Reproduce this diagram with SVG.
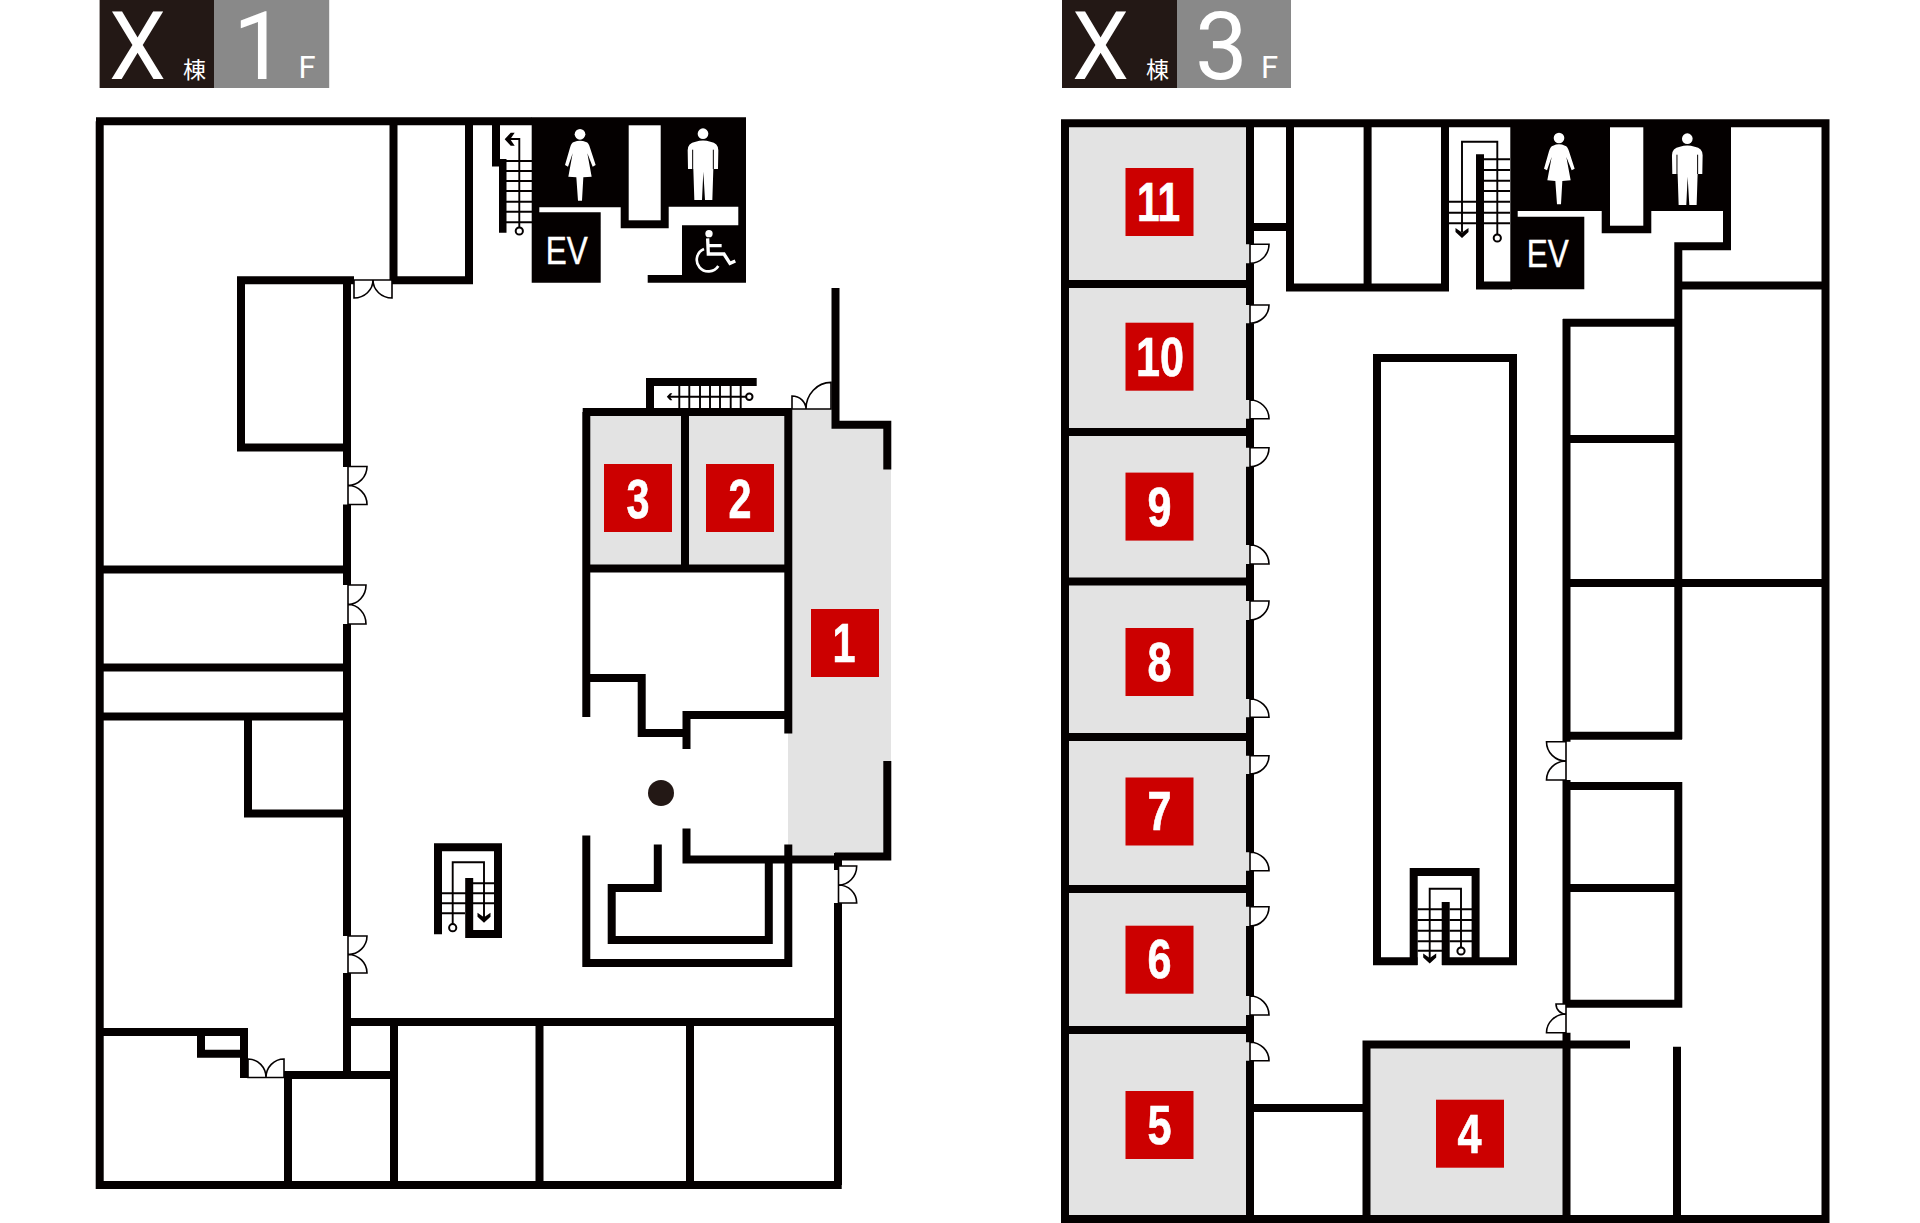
<svg xmlns="http://www.w3.org/2000/svg" xmlns:xlink="http://www.w3.org/1999/xlink" width="1920" height="1223" viewBox="0 0 1920 1223">
<style>
.w{fill:none;stroke:#040000;stroke-width:8;stroke-linejoin:miter;stroke-linecap:butt}
.k{fill:#040000}
.g{fill:#e3e3e3}
.t{fill:none;stroke:#040000;stroke-width:1.9}
.d{fill:#fff;stroke:#040000;stroke-width:1.6}
.c{fill:#fff;stroke:#040000;stroke-width:2}
.r{fill:#cc0000}
.n{font-family:"Liberation Sans",Arial,sans-serif;font-weight:700;font-size:56px;fill:#fff;stroke:#fff;stroke-width:.7;text-anchor:middle}
.big{font-family:Roboto,"Liberation Sans",sans-serif;font-weight:400;font-size:94px;fill:#fff}
.f{font-family:Roboto,"Liberation Sans",sans-serif;font-weight:400;font-size:31px;fill:#fff}
.b{font-family:"Noto Sans CJK JP",sans-serif;font-weight:400;font-size:23px;fill:#fff}
.ev{font-family:"Liberation Sans",Arial,sans-serif;font-size:38.5px;fill:#fff;stroke:#fff;stroke-width:.4}
</style>
<defs>
<path id="chev" d="M-6.5,-10 L0,-5.5 L6.5,-10 L6.5,-6 L0,0 L-6.5,-6Z" fill="#040000"/>
<g id="woman" fill="#fff" transform="scale(.3333)">
<circle cx="0" cy="0" r="16"/>
<path d="M-18,23 Q0,15 18,23 Q26,25 30,40 L47,92 L38,97 L22,57 L35,127 L10,129 L6,199 L-6,199 L-11,129 L-35,127 L-22,57 L-36,97 L-45,92 L-30,40 Q-26,25 -18,23Z"/>
</g>
<g id="man" transform="scale(.3333)">
<circle cx="0" cy="0" r="16" fill="#fff"/>
<path fill="#fff" d="M-22,24 Q0,17 22,24 Q46,27 46,50 L45,106 L31,106 L28,199 L6,199 L1,114 L-3,199 L-26,199 L-29,106 L-45,106 L-46,50 Q-46,27 -22,24Z"/>
<path d="M-31,48 V106 M31,48 V106" stroke="#040000" stroke-width="3" fill="none"/>
</g>
</defs>

<rect width="1920" height="1223" fill="#fff"/>

<g id="plan-1f">
<g id="title-1f">
<rect x="99.6" y="0" width="114.4" height="88" fill="#231815"/>
<rect x="214" y="0" width="115.2" height="88" fill="#898989"/>
<text class="big" x="109" y="79" textLength="57" lengthAdjust="spacingAndGlyphs">X</text>
<text class="b" x="183" y="78">棟</text>
<text class="big" x="233" y="79">1</text>
<text class="f" x="298.5" y="78">F</text>
</g>
<g id="areas-1f">
<rect class="g" x="590" y="415" width="92" height="151"/>
<rect class="g" x="688" y="415" width="97" height="151"/>
<path class="g" d="M792,409 H832 V428 H891 V856 H788 V733 H792Z"/>
</g>
<g id="walls-1f">
<path class="w" d="M99.7,121.3 V1185 H841.7 M96,121.3 H532"/>
<path class="w" d="M393.5,121 V280.3 H473 M469,121 V284"/>
<path class="w" d="M354,280.3 H241 V447.6 H347 M347,280 V467 M347,504.5 V585 M347,624 V936 M347,973 V1075"/>
<path class="w" d="M103,569.5 H347 M103,667.5 H347 M103,716.5 H347"/>
<path class="w" d="M248,716.5 V813.5 H347"/>
<path class="w" d="M103,1032 H244 V1078 M201,1032 V1053.7 H244"/>
<path class="w" d="M284,1075 H394 M288,1075 V1185 M347,1022 H841.7 M394,1022 V1185 M539.5,1022 V1185 M690,1022 V1185 M838,903 V1185"/>
<path class="w" d="M582.7,412 H792 M586.3,412 V717 M685,412 V568 M586,568.6 H788 M788.3,408 V733.5"/>
<path class="w" d="M586,678 H641.7 V733 H690 M686.5,749 V715 H788"/>
<path class="w" d="M686.5,828.6 V859.5 H841 M768.8,859 V940 H611.7 V888 H661.7 M657.8,844.5 V892"/>
<path class="w" d="M586.3,835.5 V963 H788.3 M788.3,844.5 V967"/>
<path class="w" d="M835.5,288 V424.8 H887.3 V469.4 M887.3,761 V856.5 H835 M838,853 V870"/>
<path class="k" d="M492,125 H500 V159 H506.5 V232.7 H499 V166.5 H492Z"/>
<path class="k" d="M531.7,117.3 H746 V282.7 H647.7 V275 H682 V225.3 H738.3 V206.7 H668.7 V228.3 H620.7 V207.3 H539.3 V212.3 H600.7 V282.7 H531.7Z"/>
<rect x="628.7" y="125.3" width="32" height="95" fill="#fff"/>
<circle cx="661" cy="793" r="13" fill="#231815"/>
</g>
<g id="stairs-1f">
<path class="t" d="M506,161H532 M506,171H532 M506,181H532 M506,191H532 M506,201.7H532 M506,211.7H532 M506,222.3H532 M519.3,227 V139 H507"/>
<use xlink:href="#chev" href="#chev" transform="translate(504.7 139.3) rotate(90)"/>
<circle class="c" cx="519.3" cy="231" r="3.6"/>
<path class="w" d="M650,412 V382 H756.7"/>
<path class="t" d="M668,396.7 H746 M679.3,385.7V408 M689.3,385.7V408 M700,385.7V408 M710,385.7V408 M720,385.7V408 M730.7,385.7V408 M740.7,385.7V408"/>
<use xlink:href="#chev" href="#chev" transform="translate(666.8 396.7) rotate(90) scale(.55)"/>
<circle class="c" cx="749.3" cy="396.7" r="3.2"/>
<path class="w" d="M438,934.3 V847.3 H498 V934 H469.2 V878"/>
<path class="t" d="M473,883.3H494 M442,893.3H494 M442,903.2H494 M442,913.3H465 M452.7,924 V862.3 H484 V918"/>
<use xlink:href="#chev" href="#chev" transform="translate(484 922.7)"/>
<circle class="c" cx="452.7" cy="927.7" r="3.6"/>
</g>
<g id="doors-1f">
<path class="d" d="M354,280 H392 V298 A19,18 0 0 1 373,280 A19,18 0 0 1 354,298Z"/>
<path class="d" d="M348,466.5 H367 A19,19 0 0 1 348,485.5 A19,19 0 0 1 367,504.5 H348Z"/>
<path class="d" d="M348,585 H366 A18,19.5 0 0 1 348,604.5 A18,19.5 0 0 1 366,624 H348Z"/>
<path class="d" d="M348,936 H367 A19,18.5 0 0 1 348,954.5 A19,18.5 0 0 1 367,973 H348Z"/>
<path class="d" d="M248,1077.5 V1059 A18,18.5 0 0 1 266,1077.5 A18,18.5 0 0 1 284,1059 V1077.5Z"/>
<path class="d" d="M792,409 V396 A14,13 0 0 1 806,409 A25,26.5 0 0 1 831,382.4 V409Z"/>
<path class="d" d="M838.5,866 H856.7 A18.2,19 0 0 1 838.5,885 A18.2,18 0 0 1 856.7,903 H838.5Z"/>
</g>
<g id="rooms-1f">
<rect class="r" x="604" y="464" width="68" height="68"/><text class="n" x="638" y="517.6" textLength="23" lengthAdjust="spacingAndGlyphs">3</text>
<rect class="r" x="706" y="464" width="68" height="68"/><text class="n" x="740" y="517.6" textLength="23" lengthAdjust="spacingAndGlyphs">2</text>
<rect class="r" x="811" y="609" width="68" height="68"/><text class="n" x="844" y="662" textLength="23" lengthAdjust="spacingAndGlyphs">1</text>
</g>
<g id="icons-1f">
<use xlink:href="#woman" href="#woman" transform="translate(580 134.3)"/>
<use xlink:href="#man" href="#man" transform="translate(703 133.7)"/>
<g transform="translate(500 100) scale(.3333)" fill="none" stroke="#fff" stroke-width="8">
<circle cx="627" cy="401" r="11" fill="#fff" stroke="none"/>
<path d="M623,415 L625,462 H672 L690,490 L706,483 M625,437 H665" stroke-width="10"/>
<path d="M612,447 A35,35 0 1 0 655,498"/>
</g>
<text class="ev" x="545.7" y="264.3" textLength="42" lengthAdjust="spacingAndGlyphs">EV</text>
</g>
</g>

<g id="plan-3f">
<g id="title-3f">
<rect x="1062" y="0" width="115" height="88" fill="#231815"/>
<rect x="1177" y="0" width="114" height="88" fill="#898989"/>
<text class="big" x="1072" y="79" textLength="57" lengthAdjust="spacingAndGlyphs">X</text>
<text class="b" x="1146" y="78">棟</text>
<text class="big" x="1195" y="79">3</text>
<text class="f" x="1261" y="78">F</text>
</g>
<g id="areas-3f">
<rect class="g" x="1069" y="127" width="181" height="1088"/>
<rect class="g" x="1370" y="1048" width="193" height="167"/>
</g>
<g id="walls-3f">
<path class="w" d="M1065,119.3 V1223 M1061.2,123.3 H1829.5 M1825.5,119.3 V1223 M1061.2,1219 H1829.5"/>
<path class="w" d="M1069,284 H1250 M1069,432 H1250 M1069,581.6 H1250 M1069,737 H1250 M1069,889 H1250 M1069,1030 H1250"/>
<path class="w" d="M1250,123 V244.3 M1250,263.3 V305 M1250,323.3 V400 M1250,418.7 V447.7 M1250,466.7 V545 M1250,564 V601 M1250,620 V699 M1250,717.3 V755.7 M1250,774 V852.3 M1250,870.7 V906.7 M1250,926 V996 M1250,1015 V1042.3 M1250,1060.7 V1223"/>
<path class="w" d="M1254,227 H1290 M1290,123 V287.5 H1449 M1367.6,123 V287 M1445,123 V291"/>
<path class="w" d="M1480,154.3 V285.5 H1512"/>
<path class="k" d="M1510.3,123 H1731 V250 H1723 V211 H1651.3 V233.3 H1601.7 V211 H1517.7 V216.7 H1584.3 V289.3 H1510.3Z"/>
<rect x="1610" y="127.3" width="33.3" height="98.4" fill="#fff"/>
<path class="w" d="M1731,246.3 H1678.3 V739.3 M1678.3,285.5 H1825 M1563,322.8 H1682 M1563,439 H1678 M1566.5,583 H1825 M1563,735.7 H1682"/>
<path class="w" d="M1566.5,319 V741.7 M1566.5,780 V1004 M1566.5,1032.7 V1223"/>
<path class="w" d="M1563,786 H1678.3 V1003.7 H1563 M1566,888 H1675"/>
<path class="w" d="M1630,1044.5 H1366.5 V1223 M1254,1108 H1366 M1677,1046.7 V1223"/>
<path class="w" d="M1417.5,961.3 H1377 V358 H1513 V961.3 H1442"/>
<path class="w" d="M1413.7,965 V872 H1475.6 V961 M1445.7,902 V965"/>
</g>
<g id="stairs-3f">
<path class="t" d="M1484,159.3H1510 M1484,170H1510 M1484,180.7H1510 M1484,191H1510 M1484,201.7H1510 M1484,212.7H1510 M1484,223.3H1510 M1449,201.7H1476 M1449,212.7H1476 M1449,223.3H1476 M1497.3,234 V141.7 H1462 V232"/>
<use xlink:href="#chev" href="#chev" transform="translate(1462 238)"/>
<circle class="c" cx="1497.3" cy="238" r="3.6"/>
<path class="t" d="M1417.5,909.3H1442 M1417.5,920H1442 M1417.5,930.7H1442 M1417.5,941.3H1442 M1417.5,950.7H1442 M1449.5,909.3H1472 M1449.5,920H1472 M1449.5,930.7H1472 M1449.5,941.3H1472 M1461,947 V888.7 H1429.7 V958"/>
<use xlink:href="#chev" href="#chev" transform="translate(1429.7 963.5)"/>
<circle class="c" cx="1461" cy="951" r="3.6"/>
</g>
<g id="doors-3f">
<path class="d" d="M1250,244.3 H1269 A19,19 0 0 1 1250,263.3Z"/>
<path class="d" d="M1250,305 H1269 A19,18.3 0 0 1 1250,323.3Z"/>
<path class="d" d="M1250,418.7 H1269 A19,18.7 0 0 0 1250,400Z"/>
<path class="d" d="M1250,447.7 H1269 A19,19 0 0 1 1250,466.7Z"/>
<path class="d" d="M1250,564 H1269 A19,19 0 0 0 1250,545Z"/>
<path class="d" d="M1250,601 H1269 A19,19 0 0 1 1250,620Z"/>
<path class="d" d="M1250,717.3 H1269 A19,18.3 0 0 0 1250,699Z"/>
<path class="d" d="M1250,755.7 H1269 A19,18.3 0 0 1 1250,774Z"/>
<path class="d" d="M1250,870.7 H1269 A19,18.4 0 0 0 1250,852.3Z"/>
<path class="d" d="M1250,906.7 H1269 A19,19.3 0 0 1 1250,926Z"/>
<path class="d" d="M1250,1015 H1269 A19,19 0 0 0 1250,996Z"/>
<path class="d" d="M1250,1060.7 H1269 A19,18.4 0 0 0 1250,1042.3Z"/>
<path class="d" d="M1566,741.7 H1546.5 A19.5,19.3 0 0 0 1566,761 A19.5,19 0 0 0 1546.5,780 H1566Z"/>
<path class="d" d="M1566,1004 H1556 A10,10 0 0 0 1566,1014 A19.5,18.7 0 0 0 1546.5,1032.7 H1566Z"/>
</g>
<g id="rooms-3f">
<rect class="r" x="1125.5" y="168" width="68" height="68"/><text class="n" x="1158.5" y="220.7" textLength="43" lengthAdjust="spacingAndGlyphs">11</text>
<rect class="r" x="1125.5" y="322.7" width="68" height="68"/><text class="n" x="1160" y="376" textLength="48" lengthAdjust="spacingAndGlyphs">10</text>
<rect class="r" x="1125.5" y="472.6" width="68" height="68"/><text class="n" x="1159.5" y="526" textLength="24" lengthAdjust="spacingAndGlyphs">9</text>
<rect class="r" x="1125.5" y="628" width="68" height="68"/><text class="n" x="1159.5" y="681" textLength="24" lengthAdjust="spacingAndGlyphs">8</text>
<rect class="r" x="1125.5" y="777.5" width="68" height="68"/><text class="n" x="1159.5" y="829.5" textLength="24" lengthAdjust="spacingAndGlyphs">7</text>
<rect class="r" x="1125.5" y="925.7" width="68" height="68"/><text class="n" x="1159.5" y="978" textLength="24" lengthAdjust="spacingAndGlyphs">6</text>
<rect class="r" x="1125.5" y="1091" width="68" height="68"/><text class="n" x="1159.5" y="1144" textLength="24" lengthAdjust="spacingAndGlyphs">5</text>
<rect class="r" x="1436" y="1099.7" width="68" height="68"/><text class="n" x="1469.5" y="1152.7" textLength="24" lengthAdjust="spacingAndGlyphs">4</text>
</g>
<g id="icons-3f">
<use xlink:href="#woman" href="#woman" transform="translate(1559 138)"/>
<use xlink:href="#man" href="#man" transform="translate(1687.3 138.7)"/>
<text class="ev" x="1526.7" y="267.3" textLength="42" lengthAdjust="spacingAndGlyphs">EV</text>
</g>
</g>
</svg>
